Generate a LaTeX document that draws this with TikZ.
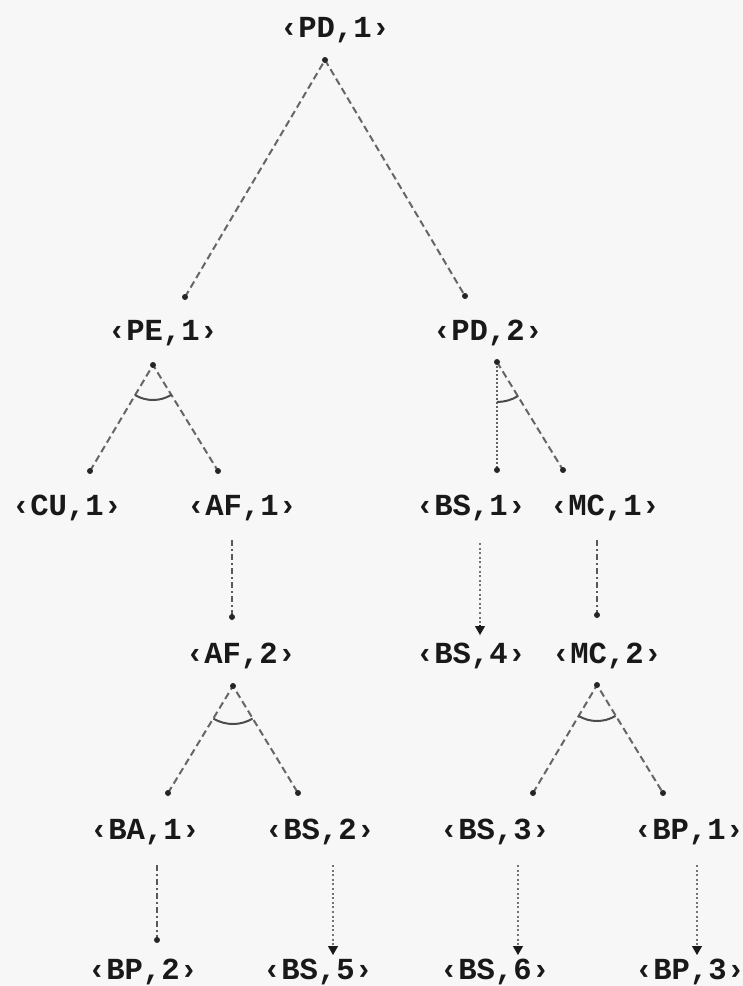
\documentclass[tikz,border=0pt]{standalone}
\usepackage{fontspec}
\newfontfamily\labelfont{Liberation Mono}
\usetikzlibrary{calc,arrows.meta}

\begin{document}
\begin{tikzpicture}[x=0.5pt,y=-0.5pt,
  lbl/.style={inner sep=0pt,text=black!90,font=\labelfont\bfseries\fontsize{15.3}{18}\selectfont},
  edge/.style={draw=black!60,line width=1pt,dash pattern=on 3.5pt off 2pt},
  dense/.style={draw=black!62,line width=1pt,dash pattern=on 1pt off 1pt},
  chain/.style={draw=black!65,line width=1pt,dash pattern=on 3pt off 1.5pt on 1pt off 1.5pt},
  succ/.style={draw=black!55,line width=1pt,dash pattern=on 1pt off 1.3pt,
    postaction={draw=black!90,fill=black!90,solid,line width=0.6pt,shorten <=41pt,
      -{Triangle[length=4.5pt,width=5pt]}}},
  andarc/.style={draw=black!70,line width=1pt},
  enddot/.style={fill=black!85}
]
\useasboundingbox (0,0) rectangle (743,986);
\fill[black!3] (0,0) rectangle (743,986);

% goal labels
\node[lbl] (PD1) at (335,30)  {‹PD,1›};
\node[lbl] (PE1) at (163,333) {‹PE,1›};
\node[lbl] (PD2) at (488,333) {‹PD,2›};
\node[lbl] (CU1) at (67,508)  {‹CU,1›};
\node[lbl] (AF1) at (242,508) {‹AF,1›};
\node[lbl] (BS1) at (471,508) {‹BS,1›};
\node[lbl] (MC1) at (605,508) {‹MC,1›};
\node[lbl] (AF2) at (241,656) {‹AF,2›};
\node[lbl] (BS4) at (471,656) {‹BS,4›};
\node[lbl] (MC2) at (607,656) {‹MC,2›};
\node[lbl] (BA1) at (145,832) {‹BA,1›};
\node[lbl] (BS2) at (320,832) {‹BS,2›};
\node[lbl] (BS3) at (495,832) {‹BS,3›};
\node[lbl] (BP1) at (689,832) {‹BP,1›};
\node[lbl] (BP2) at (143,972) {‹BP,2›};
\node[lbl] (BS5) at (318,972) {‹BS,5›};
\node[lbl] (BS6) at (495,972) {‹BS,6›};
\node[lbl] (BP3) at (690,972) {‹BP,3›};

% fork points below each expanded goal
\coordinate (PD1-f) at (325,60);
\coordinate (PE1-f) at (153,365);
\coordinate (PD2-f) at (497,362);
\coordinate (AF2-f) at (233,686);
\coordinate (MC2-f) at (597,685);

% entry points above each child
\coordinate (PE1-e) at (185,297);
\coordinate (PD2-e) at (465,296);
\coordinate (CU1-e) at (90,471);
\coordinate (AF1-e) at (218,471);
\coordinate (BS1-e) at (497,470);
\coordinate (MC1-e) at (563,470);
\coordinate (BA1-e) at (168,793);
\coordinate (BS2-e) at (298,793);
\coordinate (BS3-e) at (533,793);
\coordinate (BP1-e) at (663,793);

% chain ends
\coordinate (AF1-s) at (232,540);  \coordinate (AF2-e) at (232,617);
\coordinate (BS1-s) at (480,543);  \coordinate (BS4-e) at (480,635);
\coordinate (MC1-s) at (597,540);  \coordinate (MC2-e) at (597,615);
\coordinate (BA1-s) at (157,865);  \coordinate (BP2-e) at (157,940);
\coordinate (BS2-s) at (333,865);  \coordinate (BS5-e) at (333,955);
\coordinate (BS3-s) at (518,865);  \coordinate (BS6-e) at (518,955);
\coordinate (BP1-s) at (697,865);  \coordinate (BP3-e) at (697,955);

% tree edges
\draw[edge] (PE1-e) -- (PD1-f) -- (PD2-e);
\draw[edge] (CU1-e) -- (PE1-f) -- (AF1-e);
\draw[dense] (PD2-f) -- (BS1-e);
\draw[edge] (PD2-f) -- (MC1-e);
\draw[edge] (BA1-e) -- (AF2-f) -- (BS2-e);
\draw[edge] (BS3-e) -- (MC2-f) -- (BP1-e);

% AND arcs
\draw[andarc] ($(PE1-f)+(58:35)$) arc[start angle=58,end angle=121,radius=35];
\draw[andarc] ($(PD2-f)+(58:40)$) arc[start angle=58,end angle=90,radius=40];
\draw[andarc] ($(AF2-f)+(59:38)$) arc[start angle=59,end angle=121,radius=38];
\draw[andarc] ($(MC2-f)+(59:36)$) arc[start angle=59,end angle=121,radius=36];

% refinement chains
\draw[chain] (AF1-s) -- (AF2-e);
\draw[chain] (MC1-s) -- (MC2-e);
\draw[chain] (BA1-s) -- (BP2-e);
\draw[succ] (BS1-s) -- (BS4-e);
\draw[succ] (BS2-s) -- (BS5-e);
\draw[succ] (BS3-s) -- (BS6-e);
\draw[succ] (BP1-s) -- (BP3-e);

% end dots
\foreach \p in {PD1-f,PE1-f,PD2-f,AF2-f,MC2-f,PE1-e,PD2-e,CU1-e,AF1-e,BS1-e,MC1-e,
                BA1-e,BS2-e,BS3-e,BP1-e,AF2-e,MC2-e,BP2-e}
  \fill[enddot] (\p) circle (1.5pt);
\end{tikzpicture}
\end{document}
